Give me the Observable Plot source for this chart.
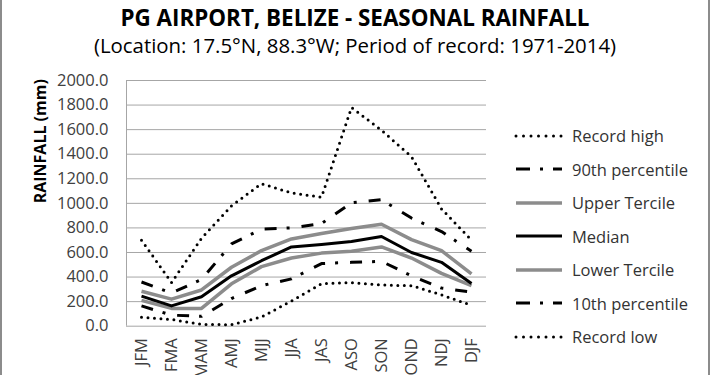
<!DOCTYPE html>
<html>
<head>
<meta charset="utf-8">
<script src="https://cdn.jsdelivr.net/npm/d3@7"></script>
<script src="https://cdn.jsdelivr.net/npm/@observablehq/plot@0.6"></script>
<style>
  html, body { margin: 0; padding: 0; background: white; }
  #wrap { position: relative; width: 710px; height: 375px; overflow: hidden; background: white; font-family: "Open Sans", sans-serif; }
  #wrap > svg { position: absolute; left: 0; top: 0; }
  .title { position: absolute; left: 0; width: 710px; text-align: center; color: #000; white-space: nowrap; }
  .legend-item { position: absolute; left: 514px; height: 20px; display: flex; align-items: center; font-size: 16.5px; color: #333; white-space: nowrap; }
  #wrap .legend-item svg { position: static; margin-right: 8px; flex: none; }
  .edge { position: absolute; top: 0; width: 2px; height: 375px; background: #8c8c8c; }
</style>
</head>
<body>
<div id="wrap"></div>
<script>
const seasons = ["JFM","FMA","MAM","AMJ","MJJ","JJA","JAS","ASO","SON","OND","NDJ","DJF"];
const recordHigh   = [700, 355, 715, 980, 1160, 1085, 1050, 1780, 1595, 1380, 955, 700];
const pct90        = [360, 270, 380, 670, 790, 800, 835, 1005, 1030, 880, 770, 610];
const upperTercile = [285, 220, 295, 480, 615, 710, 755, 795, 830, 705, 615, 425];
const median       = [245, 165, 240, 410, 533, 645, 665, 690, 730, 600, 520, 348];
const lowerTercile = [210, 145, 145, 345, 485, 555, 595, 610, 645, 555, 430, 330];
const pct10        = [165, 90, 80, 225, 330, 385, 510, 520, 528, 410, 310, 278];
const recordLow    = [73, 55, 15, 12, 75, 205, 345, 355, 335, 330, 255, 170];
const yTicks = [0, 200, 400, 600, 800, 1000, 1200, 1400, 1600, 1800, 2000];

const titleText = "PG AIRPORT, BELIZE - SEASONAL RAINFALL";
const subtitleText = "(Location: 17.5°N, 88.3°W; Period of record: 1971-2014)";
const yLabel = "RAINFALL (mm)";

const dotted = {stroke: "black", strokeWidth: 3, strokeDasharray: "0 6.5", strokeLinecap: "round"};
const dashDot = {stroke: "black", strokeWidth: 3, strokeDasharray: "12 10 3 12", strokeLinecap: "butt"};
const gray = {stroke: "#8c8c8c", strokeWidth: 3.5, strokeLinecap: "butt"};
const black = {stroke: "black", strokeWidth: 3, strokeLinecap: "butt"};

const series = [
  {name: "Record high", values: recordHigh, style: dotted},
  {name: "90th percentile", values: pct90, style: dashDot},
  {name: "Upper Tercile", values: upperTercile, style: gray},
  {name: "Median", values: median, style: black},
  {name: "Lower Tercile", values: lowerTercile, style: gray},
  {name: "10th percentile", values: pct10, style: dashDot},
  {name: "Record low", values: recordLow, style: dotted}
];

const rows = arr => arr.map((v, i) => ({i, v}));

const chart = Plot.plot({
  width: 710,
  height: 375,
  marginLeft: 126,
  marginRight: 224,
  marginTop: 80,
  marginBottom: 49.3,
  style: {fontFamily: "Open Sans", fontSize: "16.5px", color: "#404040", background: "transparent"},
  x: {domain: [-0.5, 11.5]},
  y: {domain: [0, 2000]},
  marks: [
    Plot.gridY(yTicks, {stroke: "#a6a6a6", strokeOpacity: 1, strokeWidth: 1}),
    Plot.ruleX([-0.5], {stroke: "#a6a6a6", strokeWidth: 1}),
    Plot.axisY(yTicks, {tickSize: 0, tickPadding: 18, label: null, tickFormat: d3.format(".1f")}),
    Plot.axisX(d3.range(seasons.length), {tickSize: 0, tickPadding: 12, tickRotate: -90, label: null, tickFormat: i => seasons[i]}),
    ...series.slice().reverse().map(s => Plot.line(rows(s.values), {x: "i", y: "v", ...s.style})),
    Plot.text([yLabel], {frameAnchor: "left", rotate: -90, dx: -86, fontWeight: "bold", fontSize: 16, fill: "black"})
  ]
});

const wrap = document.getElementById("wrap");
wrap.appendChild(chart);

const t = document.createElement("div");
t.className = "title";
t.style.top = "3px";
t.style.fontSize = "22.4px";
t.style.fontWeight = "bold";
t.style.lineHeight = "30px";
t.textContent = titleText;
wrap.appendChild(t);

const st = document.createElement("div");
st.className = "title";
st.style.top = "31px";
st.style.fontSize = "20.4px";
st.style.lineHeight = "28px";
st.textContent = subtitleText;
wrap.appendChild(st);

series.forEach((s, k) => {
  const item = document.createElement("div");
  item.className = "legend-item";
  item.style.top = (135.7 + k * 33.5 - 10) + "px";
  const ns = "http://www.w3.org/2000/svg";
  const sv = document.createElementNS(ns, "svg");
  sv.setAttribute("width", 50);
  sv.setAttribute("height", 20);
  const ln = document.createElementNS(ns, "line");
  ln.setAttribute("x1", 2); ln.setAttribute("x2", 48);
  ln.setAttribute("y1", 10); ln.setAttribute("y2", 10);
  ln.setAttribute("stroke", s.style.stroke);
  ln.setAttribute("stroke-width", s.style.strokeWidth);
  if (s.style.strokeDasharray) ln.setAttribute("stroke-dasharray", s.style === dotted ? "0 7.5" : "14 10 3 10");
  ln.setAttribute("stroke-linecap", s.style.strokeLinecap);
  sv.appendChild(ln);
  item.appendChild(sv);
  const tx = document.createElement("span");
  tx.textContent = s.name;
  item.appendChild(tx);
  wrap.appendChild(item);
});

["0px", "708px"].forEach(x => {
  const e = document.createElement("div");
  e.className = "edge";
  e.style.left = x;
  wrap.appendChild(e);
});
</script>
</body>
</html>
